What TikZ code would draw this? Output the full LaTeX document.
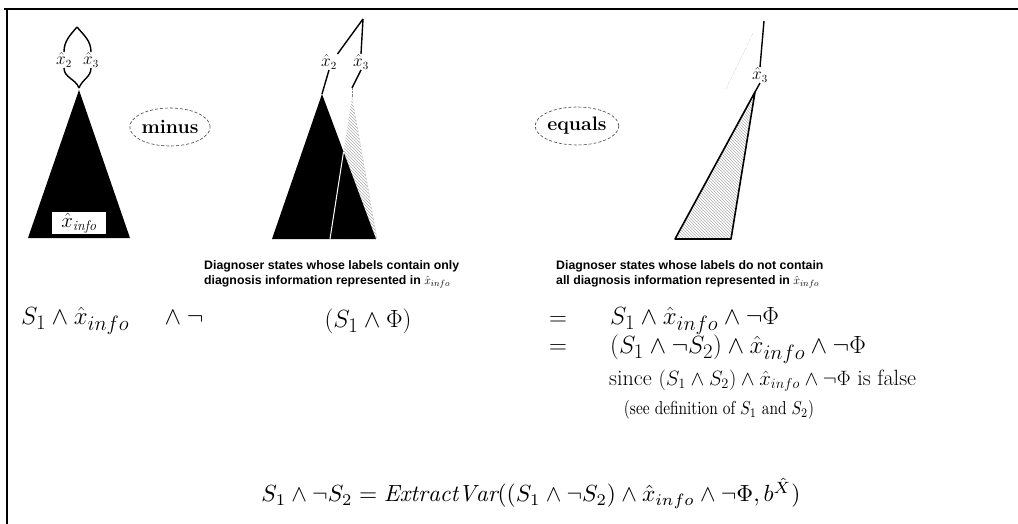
\documentclass[tikz,border=0pt]{standalone}
\usepackage{fontspec}
\newfontfamily\helv{Liberation Sans}
\usetikzlibrary{patterns,shapes.geometric}
\newcommand{\mfs}{\fontsize{28.7}{30}\selectfont}
\newcommand{\sfs}{\fontsize{22.1}{24}\selectfont}
\begin{document}
\begin{tikzpicture}[x=1pt,y=-1pt,
  branch/.style={line width=1.4pt},
  hatch/.style={pattern=north west lines, pattern color=gray!65},
  oval/.style={ellipse, draw=black!75, densely dashed, line width=0.6pt,
    minimum width=72pt, minimum height=38pt, inner sep=0pt,
    font=\fontsize{19.5}{22}\selectfont\bfseries},
  lbl/.style={inner sep=0.5pt, font=\fontsize{16}{18}\selectfont},
  capt/.style={inner sep=0pt, anchor=north west, align=left,
    font=\helv\bfseries\fontsize{12.3}{15.5}\selectfont},
  mrow/.style={inner sep=0pt, anchor=west, font=\mfs},
  eqs/.style={inner sep=0pt, font=\mfs}]
\useasboundingbox (0,0) rectangle (1018,524);
% frame
\draw[line width=2pt] (4,9) -- (1018,9);
\draw[line width=2pt] (7,9) -- (7,524);

% ---- left tree
\coordinate (La) at (77,27);
\node[lbl] (Lx2) at (64,60) {$\hat{x}_2$};
\node[lbl] (Lx3) at (91,60) {$\hat{x}_3$};
\coordinate (Lb) at (79,88);
\draw[branch] (La) to[out=230,in=90] (Lx2.north);
\draw[branch] (La) to[out=-50,in=90] (Lx3.north);
\draw[branch] (Lx2.south) to[out=-90,in=110] (Lb);
\draw[branch] (Lx3.south) to[out=-90,in=70] (Lb);
\coordinate (Lt) at (79,90);
\fill (Lt) -- (28,238) -- (130,238) -- cycle;
\node[fill=white, inner sep=0pt, minimum width=54pt, minimum height=22pt,
  font=\fontsize{20}{22}\selectfont] (Linfo) at (79,223) {$\hat{x}_{\mathit{info}}$};

\node[oval] (minus) at (170,127) {minus};

% ---- middle tree
\coordinate (Ma) at (363,19);
\node[lbl] (Mx2) at (329,62) {$\hat{x}_2$};
\node[lbl] (Mx3) at (361,62) {$\hat{x}_3$};
\coordinate (M2) at (322,94);
\coordinate (M3) at (352,97);
\coordinate (M3b) at (352,88);
\draw[branch] (Ma) -- (Mx2.north east);
\draw[branch] (Ma) -- (Mx3.north);
\draw[branch] (Mx2.south) -- (M2);
\draw[branch] (Mx3.south) -- (M3b);
\draw[gray, densely dotted] (M3b) -- (M3);
\fill[hatch] (M3) -- (330,239) -- (377,239) -- cycle;
\draw[gray!70, densely dotted] (M3) -- (377,239);
\fill (M2) -- (272,239) -- (376,239) -- cycle;
\draw[white, line width=1pt] (343.5,152) -- (330,239);

\node[oval] (equals) at (577,126) {equals};

% ---- right tree
\coordinate (Ra) at (764,21);
\node[lbl] (Rx3) at (760,75) {$\hat{x}_3$};
\coordinate (Rt) at (755,92);
\draw[branch] (Ra) -- (Rx3.north);
\draw[branch] (Rx3.south) -- (Rt);
\coordinate (Rd1) at (753,33);
\coordinate (Rd2) at (726,89);
\draw[gray!70, densely dotted] (Rd1) -- (Rd2);
\draw[hatch, draw=black, line width=1.6pt, line join=round] (Rt) -- (675,239) -- (731,239) -- cycle;

% ---- captions
\node[capt] (capL) at (204,260) {Diagnoser states whose labels contain only\\diagnosis information represented in $\hat{x}_{info}$};
\node[capt] (capR) at (556,260) {Diagnoser states whose labels do not contain\\all diagnosis information represented in $\hat{x}_{info}$};

% ---- equations
\node[mrow] (r1a) at (21,321) {$S_1\wedge\hat{x}_{info}\hspace{30pt}\wedge\neg$};
\node[eqs] (r1b) at (368,321) {$(S_1\wedge\Phi)$};
\node[eqs] (e1) at (558,321) {$=$};
\node[mrow] (r1c) at (610,321) {$S_1\wedge\hat{x}_{info}\wedge\neg\Phi$};
\node[eqs] (e2) at (558,349) {$=$};
\node[mrow] (r2c) at (610,349) {$(S_1\wedge\neg S_2)\wedge\hat{x}_{info}\wedge\neg\Phi$};
\node[mrow, font=\sfs] (r3) at (609,381) {since $(S_1\wedge S_2)\wedge\hat{x}_{info}\wedge\neg\Phi$ is false};
\node[inner sep=0pt] (r4) at (719,410) {\resizebox{190pt}{!}{\scalebox{0.82}[1]{(see definition of $S_1$ and $S_2$)}}};
\node[inner sep=0pt] (bot) at (531,493) {\resizebox{539pt}{!}{$S_1\wedge\neg S_2=\mathit{ExtractVar}((S_1\wedge\neg S_2)\wedge\hat{x}_{info}\wedge\neg\Phi,b^{\hat{X}})$}};
\end{tikzpicture}
\end{document}
